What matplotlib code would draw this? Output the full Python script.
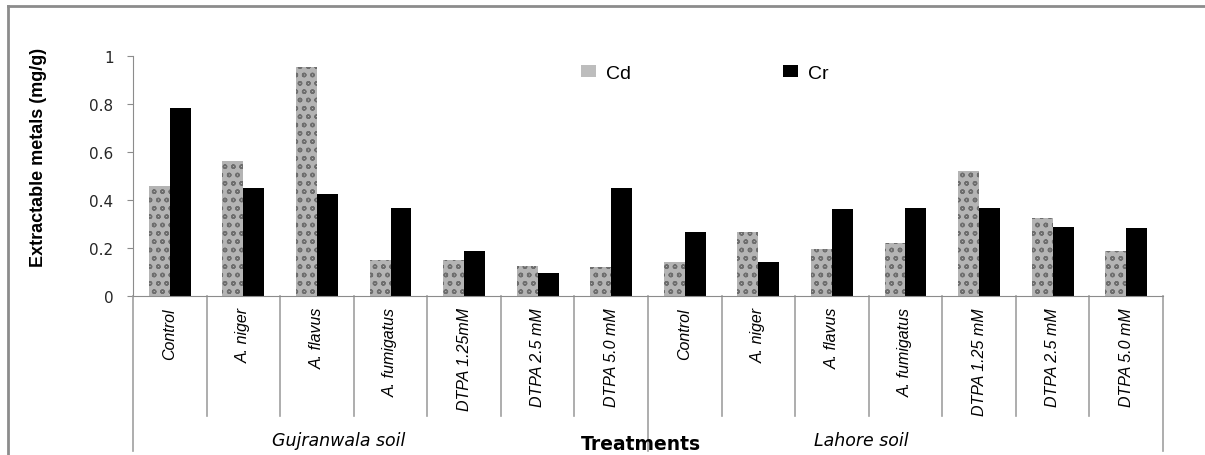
import matplotlib.pyplot as plt
import matplotlib.transforms as mtransforms
from matplotlib.patches import Patch
import numpy as np

# data
treatments = ['Control', 'A. niger', 'A. flavus', 'A. fumigatus',
              'DTPA 1.25mM', 'DTPA 2.5 mM', 'DTPA 5.0 mM',
              'Control', 'A. niger', 'A. flavus', 'A. fumigatus',
              'DTPA 1.25 mM', 'DTPA 2.5 mM', 'DTPA 5.0 mM']
soils = ['Gujranwala soil', 'Lahore soil']
cd = [0.457, 0.564, 0.953, 0.150, 0.150, 0.125, 0.122,
      0.143, 0.265, 0.197, 0.222, 0.521, 0.325, 0.186]
cr = [0.782, 0.450, 0.425, 0.365, 0.186, 0.094, 0.450,
      0.265, 0.143, 0.361, 0.365, 0.365, 0.286, 0.282]

arial = ['Liberation Sans', 'DejaVu Sans']
plt.rcParams['hatch.color'] = '#6e6e6e'
plt.rcParams['hatch.linewidth'] = 1.0

fig = plt.figure(figsize=(12.05, 4.56), dpi=100)
ax = fig.add_axes([0.1104, 0.3487, 0.8547, 0.5263])

x = np.arange(len(treatments))
w = 0.285
ax.bar(x - w, cd, w, align='edge', color='#b4b4b4', hatch='oo', linewidth=0)
ax.bar(x, cr, w, align='edge', color='black', linewidth=0)

ax.set_xlim(-0.5, len(treatments) - 0.5)
ax.set_ylim(0, 1)
ax.set_yticks([0, 0.2, 0.4, 0.6, 0.8, 1])
ax.set_yticklabels(['0', '0.2', '0.4', '0.6', '0.8', '1'])
ax.tick_params(axis='y', length=4, color='#8c8c8c', labelsize=11, pad=10,
               labelcolor='#262626')

for s in ['top', 'right']:
    ax.spines[s].set_visible(False)
for s in ['left', 'bottom']:
    ax.spines[s].set_color('#8c8c8c')

# category labels under the axis
ax.set_xticks(x)
ax.set_xticklabels(treatments, rotation=90, fontstyle='italic',
                   family=arial, fontsize=11.5, va='top')
ax.tick_params(axis='x', length=0, pad=8)

# separators between categories and groups
trans = mtransforms.blended_transform_factory(ax.transData, ax.transAxes)
for b in np.arange(len(treatments) + 1) - 0.5:
    group_edge = b in (-0.5, 6.5, 13.5)
    ax.plot([b, b], [0, -0.646 if group_edge else -0.5], color='#a0a0a0',
            lw=1.2, transform=trans, clip_on=False)

# group labels
ax.text(2.3, -0.6, soils[0], transform=trans, ha='center', va='center',
        fontstyle='italic', fontsize=12.5)
ax.text(9.4, -0.6, soils[1], transform=trans, ha='center', va='center',
        fontstyle='italic', fontsize=12.5)

ax.text(0.493, -0.655, 'Treatments', transform=ax.transAxes, ha='center',
        va='bottom', fontweight='bold', fontsize=13.5)

ax.set_ylabel('Extractable metals (mg/g)', fontweight='bold', family=arial,
              fontsize=13)
ax.yaxis.set_label_coords(-0.084, 0.58)

handles = [Patch(facecolor='#bdbdbd', label='Cd'),
           Patch(facecolor='black', label='Cr')]
ax.legend(handles=handles, loc='upper center', bbox_to_anchor=(0.555, 1.035),
          ncol=2, frameon=False, prop={'family': arial, 'size': 14},
          handlelength=0.8, handleheight=0.6, handletextpad=0.5,
          columnspacing=7.8)

# outer frame of the figure
fig.add_artist(plt.Line2D([0.007, 0.007], [0, 0.985], color='#8c8c8c', lw=2,
                          transform=fig.transFigure))
fig.add_artist(plt.Line2D([0.007, 1], [0.985, 0.985], color='#8c8c8c', lw=2,
                          transform=fig.transFigure))

fig.savefig('out.png', dpi=100)
